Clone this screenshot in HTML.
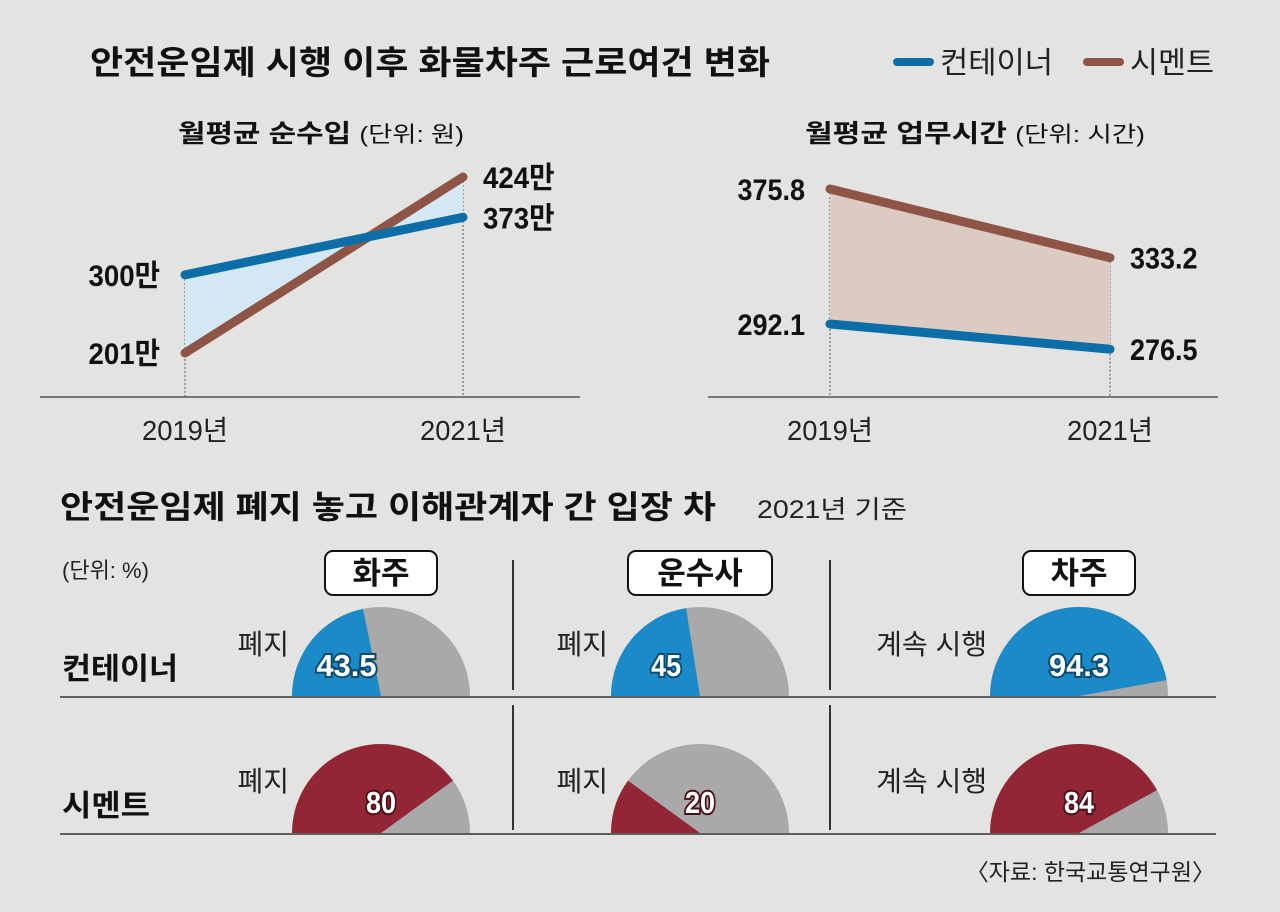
<!DOCTYPE html>
<html><head><meta charset="utf-8"><style>
html,body{margin:0;padding:0;background:#e3e3e2;}
svg{display:block;font-family:"Liberation Sans","Noto Sans CJK KR",sans-serif;}
.b{font-weight:bold;}
</style></head><body>
<svg id="c" width="1280" height="912" viewBox="0 0 1280 912">
<rect width="1280" height="912" fill="#e3e3e2"/>
<text x="90" y="74" font-size="33" class="b" fill="#111" textLength="680" lengthAdjust="spacingAndGlyphs">안전운임제 시행 이후 화물차주 근로여건 변화</text>
<g>
<line x1="897" y1="62" x2="930" y2="62" stroke="#0b6ea7" stroke-width="8" stroke-linecap="round"/>
<text x="940" y="73" font-size="30" fill="#222" textLength="113" lengthAdjust="spacingAndGlyphs">컨테이너</text>
<line x1="1087" y1="62" x2="1120" y2="62" stroke="#8e5546" stroke-width="8" stroke-linecap="round"/>
<text x="1130" y="73" font-size="30" fill="#222" textLength="84" lengthAdjust="spacingAndGlyphs">시멘트</text>
</g>
<text x="178" y="142" font-size="25" class="b" fill="#111" textLength="286" lengthAdjust="spacingAndGlyphs">월평균 순수입 <tspan font-weight="normal" font-size="22">(단위: 원)</tspan></text>
<text x="805" y="142" font-size="25" class="b" fill="#111" textLength="340" lengthAdjust="spacingAndGlyphs">월평균 업무시간 <tspan font-weight="normal" font-size="22">(단위: 시간)</tspan></text>
<g id="lines"></g>
<text x="60" y="518" font-size="32" class="b" fill="#111" textLength="656" lengthAdjust="spacingAndGlyphs">안전운임제 폐지 놓고 이해관계자 간 입장 차</text>
<text x="757" y="518" font-size="25" fill="#222" textLength="150" lengthAdjust="spacingAndGlyphs">2021년 기준</text>
<text x="62" y="578" font-size="22" fill="#222">(단위: %)</text>
<text x="62" y="679" font-size="30" class="b" fill="#111" textLength="116" lengthAdjust="spacingAndGlyphs">컨테이너</text>
<text x="62" y="816" font-size="30" class="b" fill="#111" textLength="88" lengthAdjust="spacingAndGlyphs">시멘트</text>
<line x1="60" y1="697" x2="1216" y2="697" stroke="#333" stroke-width="1.5"/>
<line x1="60" y1="834" x2="1216" y2="834" stroke="#333" stroke-width="1.5"/>
<line x1="513" y1="560" x2="513" y2="690" stroke="#333" stroke-width="2"/>
<line x1="513" y1="705" x2="513" y2="830" stroke="#333" stroke-width="2"/>
<line x1="830" y1="560" x2="830" y2="690" stroke="#333" stroke-width="2"/>
<line x1="830" y1="705" x2="830" y2="830" stroke="#333" stroke-width="2"/>
<g id="pies"></g>
<text x="1215" y="880" font-size="23" fill="#222" text-anchor="end">〈자료: 한국교통연구원〉</text>
</svg>
<script>
const years=["2019년","2021년"];
const incomeContainer=[300,373];
const incomeCement=[201,424];
const incomeLabels=[["300만","373만"],["201만","424만"]];
const hoursContainer=[292.1,276.5];
const hoursCement=[375.8,333.2];
const hoursLabels=[["292.1","276.5"],["375.8","333.2"]];
const groups=["화주","운수사","차주"];
const stanceLabels=["폐지","폐지","계속 시행"];
const containerPct=[43.5,45,94.3];
const cementPct=[80,20,84];

const NS="http://www.w3.org/2000/svg";
function mk(tag,attrs,parent,text){const e=document.createElementNS(NS,tag);for(const k in attrs)e.setAttribute(k,attrs[k]);if(text!==undefined)e.textContent=text;parent.appendChild(e);return e;}
function tw(s){let w=0;for(const ch of s)w+=(ch==='만')?31:13.5;return w;}
const L=document.getElementById('lines');
function chart(cfg){
  const xs=i=>cfg.x0+i*(cfg.x1-cfg.x0);
  const ys=v=>cfg.yRef-(v-cfg.vRef)*cfg.k;
  const ax=mk('line',{x1:cfg.ax0,y1:397,x2:cfg.ax1,y2:397,stroke:'#555','stroke-width':1.5},L);
  
  
  years.forEach((y,i)=>{
    const top=Math.min(ys(cfg.a[i]),ys(cfg.b[i]));
    const g=mk('line',{x1:xs(i),y1:top,x2:xs(i),y2:397,stroke:'#555','stroke-width':1,'stroke-dasharray':'2,2'},L);
    
    
    const t=mk('text',{x:xs(i),y:440,'font-size':28,'text-anchor':'middle',fill:'#222',textLength:86,lengthAdjust:'spacingAndGlyphs'},L,y);
    
    
  });
  const f=mk('polygon',{points:cfg.a.map((v,i)=>xs(i)+','+ys(v)).concat(cfg.b.map((v,i)=>xs(i)+','+ys(v)).reverse()).join(' '),fill:cfg.fill},L);
  
  
  [[cfg.b,'#8e5546','cement'],[cfg.a,'#0b6ea7','container']].forEach(([s,c,n])=>{
    const l=mk('line',{x1:xs(0),y1:ys(s[0]),x2:xs(1),y2:ys(s[1]),stroke:c,'stroke-width':9,'stroke-linecap':'round'},L);
    
    
  });
  [[cfg.a,cfg.labels[0]],[cfg.b,cfg.labels[1]]].forEach(([s,lab])=>{
    s.forEach((v,i)=>{
      const t=mk('text',{x:i?xs(i)+20:xs(i)-25,y:ys(v)+11,'font-size':30,'text-anchor':i?'start':'end',fill:'#111',class:'b',textLength:tw(lab[i]),lengthAdjust:'spacingAndGlyphs'},L,lab[i]);
      
      
    });
  });
}
chart({name:'income',x0:185,x1:463,ax0:40,ax1:580,yRef:353,vRef:201,k:0.789,a:incomeContainer,b:incomeCement,labels:incomeLabels,fill:'#d4e7f4'});
chart({name:'hours',x0:830,x1:1110,ax0:708,ax1:1218,yRef:189,vRef:375.8,k:1.613,a:hoursContainer,b:hoursCement,labels:hoursLabels,fill:'#dccbc3'});

const P=document.getElementById('pies');
const cx=[381,700,1079], R=89;
groups.forEach((g,j)=>{
  const w=g.length*32+48;
  const r=mk('rect',{x:cx[j]-w/2,y:551,width:w,height:44,rx:8,fill:'#fff',stroke:'#111','stroke-width':2},P);
  
  
  const t=mk('text',{x:cx[j],y:584,'font-size':31,'text-anchor':'middle',class:'b',fill:'#111'},P,g);
  
  
  [[containerPct,696,'#1a8ac8','#0a4a70','container'],[cementPct,833,'#922634','#4a1018','cement']].forEach(([arr,cy,col,dk,n])=>{
    const p=arr[j], a=Math.PI*p/100;
    const ex=cx[j]-R*Math.cos(a), ey=cy-R*Math.sin(a);
    const gr=mk('path',{d:`M${cx[j]-R},${cy} A${R},${R} 0 0 1 ${cx[j]+R},${cy} Z`,fill:'#a9a9a9'},P);
    
    
    const s=mk('path',{d:`M${cx[j]},${cy} L${cx[j]-R},${cy} A${R},${R} 0 0 1 ${ex},${ey} Z`,fill:col},P);
    
    
    const lx=(p>60||p<30)?cx[j]:cx[j]-R*0.5*Math.cos(a/2);
    const txt=String(p);
    const t2=mk('text',{x:lx,y:cy-20,'font-size':31,'text-anchor':'middle',class:'b',fill:'#fff',stroke:dk,'stroke-width':4,'paint-order':'stroke',textLength:txt.length*15,lengthAdjust:'spacingAndGlyphs'},P,txt);
    
    
    const sl=mk('text',{x:cx[j]-R-3,y:cy-42,'font-size':28,'text-anchor':'end',fill:'#222'},P,stanceLabels[j]);
    
    
  });
});
</script>
</body></html>
